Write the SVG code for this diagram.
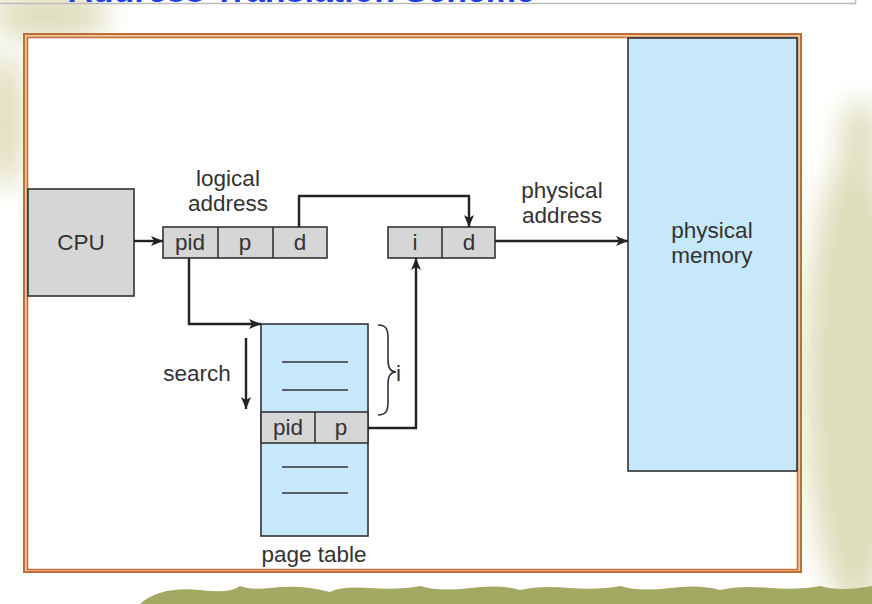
<svg xmlns="http://www.w3.org/2000/svg" width="872" height="604" viewBox="0 0 872 604">
<defs>
<filter id="blur" x="-50%" y="-50%" width="200%" height="200%"><feGaussianBlur stdDeviation="14"/></filter>
<marker id="arr" viewBox="0 0 12 10" refX="12" refY="5" markerWidth="12" markerHeight="10" markerUnits="userSpaceOnUse" orient="auto"><path d="M0,0 L12,5 L0,10 L3,5 z" fill="#222"/></marker>
<style>
text{font-family:"Liberation Sans",Arial,sans-serif;font-size:22.5px;fill:#333;}
.c{text-anchor:middle;}
.box{stroke:#333;stroke-width:1.6;}
.g{fill:#d6d6d6;}
.b{fill:#c6e8fa;}
.ln{fill:none;stroke:#222;stroke-width:2.4;}
.tl{stroke:#333;stroke-width:1.6;}
</style>
</defs>
<rect width="872" height="604" fill="#fff"/>
<g filter="url(#blur)" fill="#d8d8b0" opacity="0.85">
<ellipse cx="50" cy="15" rx="60" ry="25"/>
<ellipse cx="5" cy="120" rx="20" ry="70"/>
<ellipse cx="855" cy="380" rx="50" ry="230"/>
<ellipse cx="860" cy="140" rx="20" ry="40"/>
</g>
<path d="M140,604 Q160,586 200,590 Q230,594 240,586 Q250,590 270,588 Q300,584 330,592 Q340,586 370,588 Q400,590 420,586 Q440,592 470,588 Q500,584 520,590 Q540,585 570,588 Q600,590 620,586 Q640,592 670,588 Q700,584 720,590 Q740,585 770,588 Q800,590 820,586 Q840,592 872,586 L872,604 Z" fill="#a3a862"/>
<text x="535" y="2" style="font-size:34px;font-weight:bold;fill:#1f3fe0;text-anchor:end">Address Translation Scheme</text>
<path d="M0,3.5 H855.5 V0" fill="none" stroke="#bbb" stroke-width="1.5"/>
<rect x="24" y="34" width="777" height="538" fill="#f2c49a" stroke="#c06e38" stroke-width="2"/>
<rect x="27.5" y="37.5" width="770" height="532" fill="#fff" stroke="#c06e38" stroke-width="1.5"/>
<g id="physical-memory">
<rect class="box b" x="628" y="38" width="169" height="433"/>
<text class="c" x="712" y="238">physical</text>
<text class="c" x="712" y="263">memory</text>
</g>
<g id="cpu">
<rect class="box g" x="28" y="189" width="106" height="107"/>
<text class="c" x="81" y="250">CPU</text>
</g>
<g id="logical-address">
<text class="c" x="228" y="186">logical</text>
<text class="c" x="228" y="211">address</text>
<rect class="box g" x="163" y="227" width="164" height="31"/>
<line class="tl" x1="218" y1="227" x2="218" y2="258"/>
<line class="tl" x1="273" y1="227" x2="273" y2="258"/>
<text class="c" x="190" y="250">pid</text>
<text class="c" x="245" y="250">p</text>
<text class="c" x="300" y="250">d</text>
</g>
<g id="physical-address">
<text class="c" x="562" y="198">physical</text>
<text class="c" x="562" y="223">address</text>
<rect class="box g" x="388" y="227" width="107" height="31"/>
<line class="tl" x1="442" y1="227" x2="442" y2="258"/>
<text class="c" x="415" y="250">i</text>
<text class="c" x="469" y="250">d</text>
</g>
<g id="page-table">
<rect class="box b" x="261" y="324" width="107" height="212"/>
<line class="tl" x1="282" y1="362" x2="348" y2="362"/>
<line class="tl" x1="282" y1="390" x2="348" y2="390"/>
<rect class="box g" x="261" y="412" width="107" height="31"/>
<line class="tl" x1="315" y1="412" x2="315" y2="443"/>
<text class="c" x="288" y="435">pid</text>
<text class="c" x="341" y="435">p</text>
<line class="tl" x1="282" y1="467" x2="348" y2="467"/>
<line class="tl" x1="282" y1="493" x2="348" y2="493"/>
<text class="c" x="314" y="562">page table</text>
</g>
<g id="search">
<text class="c" x="197" y="381">search</text>
</g>
<g id="brace">
<path d="M378,325 C386,325 388,329 388,338 L388,360 C388,368 390,372 396,372 C390,372 388,376 388,384 L388,402 C388,411 386,415 378,415" fill="none" stroke="#333" stroke-width="1.6"/>
<text x="396" y="381">i</text>
</g>
<g id="connectors">
<line class="ln" x1="134" y1="241" x2="163" y2="241" marker-end="url(#arr)"/>
<path class="ln" d="M299,227 V196 H469 V227" marker-end="url(#arr)"/>
<line class="ln" x1="495" y1="241" x2="628" y2="241" marker-end="url(#arr)"/>
<path class="ln" d="M189,258 V324 H261" marker-end="url(#arr)"/>
<path class="ln" d="M368,428 H416 V258" marker-end="url(#arr)"/>
<line class="ln" x1="246" y1="338" x2="246" y2="409" marker-end="url(#arr)"/>
</g>
</svg>
